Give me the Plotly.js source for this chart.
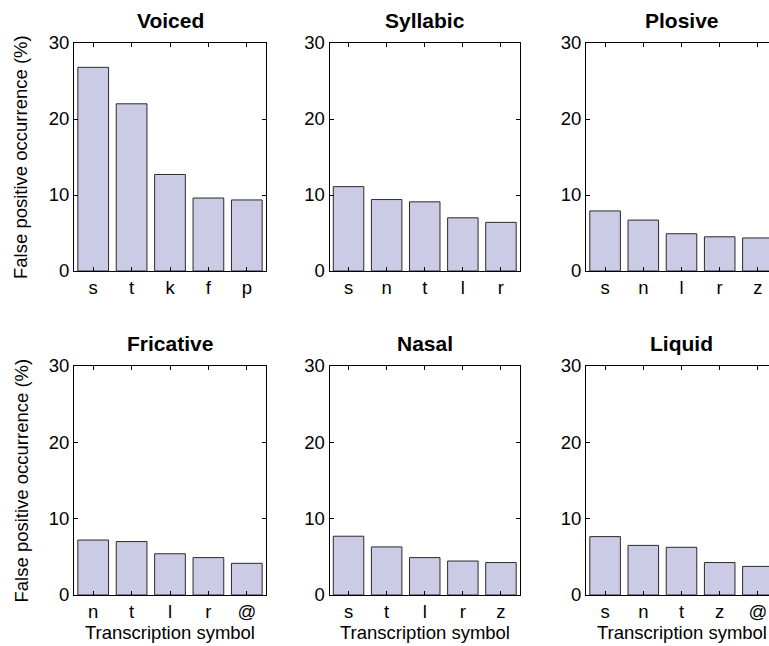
<!DOCTYPE html>
<html>
<head>
<meta charset="utf-8">
<script src="https://cdn.plot.ly/plotly-3.0.1.min.js"></script>
<style>
html,body{margin:0;padding:0;overflow:hidden;background:#fff;}
#chart{width:800px;height:646px;}
</style>
</head>
<body>
<div id="chart"></div>
<script>
// Data
const panelTitles = ["Voiced", "Syllabic", "Plosive", "Fricative", "Nasal", "Liquid"];
const voicedSymbols = ["s", "t", "k", "f", "p"];
const voicedValues = [26.8, 22.0, 12.7, 9.6, 9.35];
const syllabicSymbols = ["s", "n", "t", "l", "r"];
const syllabicValues = [11.1, 9.4, 9.1, 7.0, 6.4];
const plosiveSymbols = ["s", "n", "l", "r", "z"];
const plosiveValues = [7.9, 6.7, 4.9, 4.5, 4.35];
const fricativeSymbols = ["n", "t", "l", "r", "@"];
const fricativeValues = [7.2, 7.0, 5.4, 4.9, 4.15];
const nasalSymbols = ["s", "t", "l", "r", "z"];
const nasalValues = [7.7, 6.3, 4.9, 4.45, 4.25];
const liquidSymbols = ["s", "n", "t", "z", "@"];
const liquidValues = [7.65, 6.5, 6.25, 4.25, 3.75];
const yLabel = "False positive occurrence (%)";
const xLabel = "Transcription symbol";

const symbols = [voicedSymbols, syllabicSymbols, plosiveSymbols, fricativeSymbols, nasalSymbols, liquidSymbols];
const values = [voicedValues, syllabicValues, plosiveValues, fricativeValues, nasalValues, liquidValues];

const W = 800, H = 646;
const colPx = [[74, 266], [329.5, 520], [586, 777]];
const rowPx = [[43, 271], [366, 595]];
const FONT = "Liberation Sans, Arial, sans-serif";

const traces = [];
const layout = {
  width: W, height: H,
  margin: {l: 0, r: 0, t: 0, b: 0},
  paper_bgcolor: "#fff", plot_bgcolor: "#fff",
  showlegend: false,
  bargap: 0.2,
  font: {family: FONT, size: 18, color: "#000"},
  annotations: []
};

for (let i = 0; i < 6; i++) {
  const r = Math.floor(i / 3), c = i % 3;
  const sfx = i === 0 ? "" : String(i + 1);
  traces.push({
    type: "bar",
    x: symbols[i],
    y: values[i],
    xaxis: "x" + sfx,
    yaxis: "y" + sfx,
    marker: {color: "#cbcbe6", line: {color: "#2a2a2a", width: 1}},
    hoverinfo: "x+y"
  });
  const xd = [colPx[c][0] / W, colPx[c][1] / W];
  const yd = [(H - rowPx[r][1]) / H, (H - rowPx[r][0]) / H];
  layout["xaxis" + sfx] = {
    domain: xd, anchor: "y" + sfx, type: "category",
    range: [-0.5, 4.5],
    showline: true, linecolor: "#000", linewidth: 1, mirror: "ticks",
    ticks: "inside", ticklen: 4, tickcolor: "#000",
    showgrid: false, zeroline: false,
    tickfont: {family: FONT, size: 18.5, color: "#000"},
    fixedrange: true
  };
  layout["yaxis" + sfx] = {
    domain: yd, anchor: "x" + sfx,
    range: [0, 30], tickvals: [0, 10, 20, 30],
    showline: true, linecolor: "#000", linewidth: 1, mirror: "ticks",
    ticks: "inside", ticklen: 4, tickcolor: "#000",
    showgrid: false, zeroline: false,
    tickfont: {family: FONT, size: 18.5, color: "#000"},
    fixedrange: true
  };
  // subplot title
  layout.annotations.push({
    text: "<b>" + panelTitles[i] + "</b>",
    xref: "paper", yref: "paper",
    x: (xd[0] + xd[1]) / 2, y: (H - (rowPx[r][0] - 23)) / H,
    xanchor: "center", yanchor: "middle", showarrow: false,
    font: {family: FONT, size: 21, color: "#000"}
  });
  if (c === 0) {
    layout.annotations.push({
      text: yLabel, textangle: -90,
      xref: "paper", yref: "paper",
      x: 21 / W, y: (yd[0] + yd[1]) / 2,
      xanchor: "center", yanchor: "middle", showarrow: false,
      font: {family: FONT, size: 18.5, color: "#000"}
    });
  }
  if (r === 1) {
    layout.annotations.push({
      text: xLabel,
      xref: "paper", yref: "paper",
      x: (xd[0] + xd[1]) / 2, y: (H - 632) / H,
      xanchor: "center", yanchor: "middle", showarrow: false,
      font: {family: FONT, size: 18.5, color: "#000"}
    });
  }
}

Plotly.newPlot("chart", traces, layout, {displayModeBar: false, staticPlot: true});
</script>
</body>
</html>
